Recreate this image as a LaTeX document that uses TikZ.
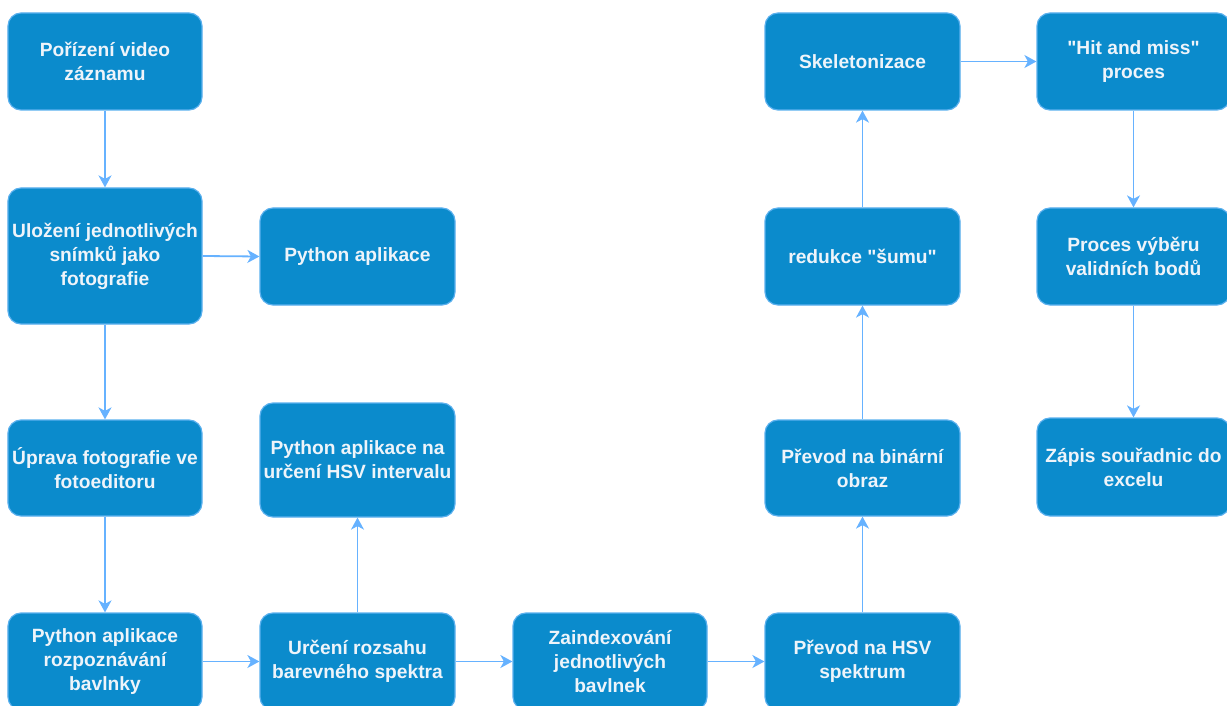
\documentclass[tikz,border=0pt]{standalone}
\usepackage{fontspec}
\setmainfont{Liberation Sans}[Ligatures=TeXOff]
\usetikzlibrary{arrows.meta}
\definecolor{boxfill}{HTML}{0B8BCC}
\definecolor{boxline}{HTML}{5BB0EE}
\definecolor{arrowc}{HTML}{66B2FF}
\definecolor{txt}{HTML}{EEF4FA}
\begin{document}
\begin{tikzpicture}[x=1bp,y=-1bp,
  proc/.style={draw=boxline, line width=1.2bp, fill=boxfill, rounded corners=13bp,
    text=txt, font=\bfseries\fontsize{19.2bp}{24bp}\selectfont, align=center,
    inner sep=0pt, minimum width=194bp, minimum height=97bp},
  conn/.style={draw=arrowc, line width=1.8bp, -{Stealth[length=12bp,width=13bp,inset=3.5bp]}}]
\useasboundingbox (0,0) rectangle (1227,706);
\clip (0,0) rectangle (1227,706);
% left column
\node[proc] (a) at (105,61.5) {Pořízení video\\záznamu};
\node[proc, minimum height=136bp] (b) at (105,256) {Uložení jednotlivých\\snímků jako\\fotografie};
\node[proc, minimum width=195bp] (c) at (357.5,256.5) {Python aplikace};
\node[proc, minimum height=96bp] (d) at (105,468) {Úprava fotografie ve\\fotoeditoru};
\node[proc] (e) at (105,661.5) {Python aplikace\\rozpoznávání\\bavlnky};
\node[proc, minimum width=195bp] (f) at (357.5,661.5) {Určení rozsahu\\barevného spektra};
\node[proc, minimum width=195bp, minimum height=114bp] (g) at (357.5,460) {Python aplikace na\\určení HSV intervalu};
\node[proc] (h) at (610,661.5) {Zaindexování\\jednotlivých\\bavlnek};
\node[proc, minimum width=195bp] (i) at (862.5,661.5) {Převod na HSV\\spektrum};
\node[proc, minimum width=195bp, minimum height=96bp] (j) at (862.5,468) {Převod na binární\\obraz};
\node[proc, minimum width=195bp] (k) at (862.5,256.5) {redukce "šumu"};
\node[proc, minimum width=195bp] (l) at (862.5,61.5) {Skeletonizace};
\node[proc, minimum width=193bp] (m) at (1133.5,61.5) {"Hit and miss"\\proces};
\node[proc, minimum width=193bp] (n) at (1133.5,256.5) {Proces výběru\\validních bodů};
\node[proc, minimum width=193bp, minimum height=98bp] (o) at (1133.5,467) {Zápis souřadnic do\\excelu};
% connectors
\draw[conn] (a) -- (b);
\draw[conn] (b.east) -- (c.west);
\draw[conn] (b) -- (d);
\draw[conn] (d) -- (e);
\draw[conn] (e) -- (f);
\draw[conn] (f) -- (g);
\draw[conn] (f) -- (h);
\draw[conn] (h) -- (i);
\draw[conn] (i) -- (j);
\draw[conn] (j) -- (k);
\draw[conn] (k) -- (l);
\draw[conn] (l) -- (m);
\draw[conn] (m) -- (n);
\draw[conn] (n) -- (o);
\end{tikzpicture}
\end{document}
